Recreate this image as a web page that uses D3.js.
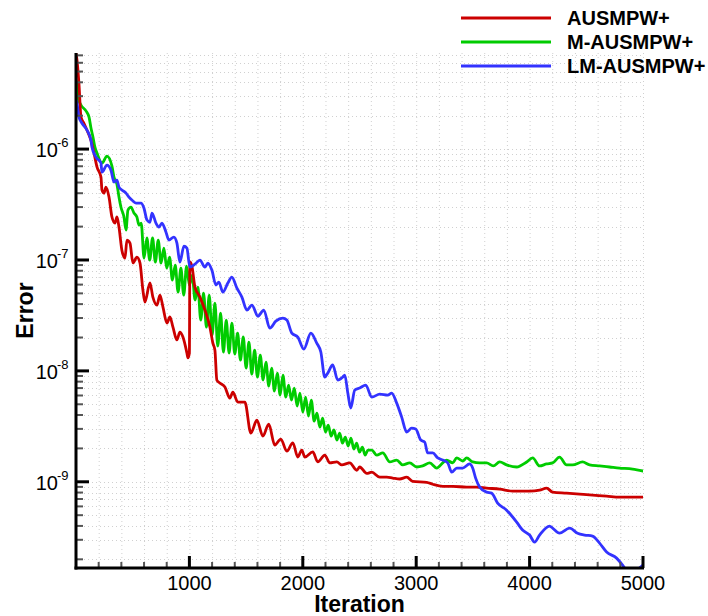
<!DOCTYPE html>
<html><head><meta charset="utf-8">
<script src="https://cdn.jsdelivr.net/npm/d3@7"></script>
<style>body{margin:0;background:#fff}svg{display:block}</style>
</head><body>
<svg id="c" width="708" height="616"></svg>
<script>
const seriesNames = ["AUSMPW+", "M-AUSMPW+", "LM-AUSMPW+"];
const xTickLabels = [1000, 2000, 3000, 4000, 5000];
const yTickExps = [-9, -8, -7, -6];

const redIter = [0,9,26,44,70,97,132,159,185,220,229,247,264,291,317,344,361,379,405,432,449,476,502,537,564,590,608,652,678,714,740,767,802,828,855,890,916,943,978,987,1000,1004,1022,1049,1093,1137,1181,1207,1225,1242,1269,1313,1357,1383,1427,1489,1542,1595,1648,1700,1753,1806,1859,1912,1956,1991,2018,2088,2132,2194,2238,2300,2344,2414,2476,2502,2564,2608,2679,2740,2793,2855,2916,2969,3093,3146,3234,3322,3445,3533,3621,3736,3850,4000,4088,4150,4203,4326,4441,4555,4679,4793,4908,5000];
const redErr = [7.3e-6,6.3e-6,3.9e-6,1.94e-6,1.71e-6,1.48e-6,1.2e-6,9.2e-7,6.9e-7,5.6e-7,4.27e-7,4.0e-7,4.54e-7,3.69e-7,2.44e-7,2.15e-7,2.44e-7,1.98e-7,1.22e-7,1.04e-7,1.51e-7,1.42e-7,9.4e-8,1.06e-7,9.4e-8,5.35e-8,4.17e-8,6.2e-8,4.63e-8,3.92e-8,4.82e-8,3.76e-8,2.7e-8,3.06e-8,2.48e-8,1.9e-8,2.24e-8,2.02e-8,1.45e-8,1.31e-8,1.45e-8,9.6e-8,8.8e-8,5.7e-8,4.63e-8,3.53e-8,2.48e-8,1.78e-8,1.54e-8,8.26e-9,7.77e-9,7.15e-9,5.69e-9,6.43e-9,5.23e-9,5.23e-9,2.75e-9,3.6e-9,2.58e-9,3.31e-9,2.14e-9,2.43e-9,1.89e-9,2.24e-9,1.67e-9,1.93e-9,1.67e-9,1.86e-9,1.51e-9,1.74e-9,1.48e-9,1.51e-9,1.42e-9,1.48e-9,1.27e-9,1.36e-9,1.19e-9,1.22e-9,1.1e-9,1.1e-9,1.08e-9,1.06e-9,1.1e-9,1.01e-9,9.9e-10,9.5e-10,9.1e-10,9.1e-10,8.95e-10,8.95e-10,8.77e-10,8.6e-10,8.24e-10,8.24e-10,8.4e-10,8.77e-10,8.07e-10,7.9e-10,7.74e-10,7.58e-10,7.43e-10,7.27e-10,7.27e-10,7.27e-10];

const greenIter = [0,9,18,44,88,115,132,150,167,185,229,273,317,335,361,379,396,423,441,458,485,511,537,555,
575,600,625,650,675,700,725,750,775,800,825,850,875,900,925,950,975,1000,1025,1050,1075,1100,1125,1150,1175,1200,1225,1250,1275,1300,1325,1350,1375,1400,1425,1450,1475,1500,1525,1550,1575,1600,1625,1650,1675,1700,1725,1750,1775,1800,1825,1850,1875,1900,1925,1950,1975,2000,2025,2050,2075,2100,2125,2150,2175,2200,2225,2250,2275,2300,2325,2350,2375,2400,2425,2450,2475,2500,2525,2550,2575,
2608,2652,2705,2767,2828,2881,2943,3005,3057,3119,3181,3234,3269,3322,3357,3410,3445,3498,3560,3621,3680,3736,3797,3886,3974,4027,4088,4150,4203,4264,4326,4379,4467,4529,4617,4705,4793,4908,5000];
const greenErr = [4.2e-6,3.77e-6,2.88e-6,2.49e-6,2.21e-6,1.94e-6,1.55e-6,1.28e-6,1.04e-6,9.2e-7,7.48e-7,8.65e-7,7.02e-7,5.59e-7,4.83e-7,3.69e-7,3.0e-7,2.44e-7,1.86e-7,2.82e-7,3.0e-7,2.65e-7,2.44e-7,2.06e-7,
2.15e-7,1.04e-7,1.58e-7,9.97e-8,1.58e-7,9.57e-8,1.51e-7,9.37e-8,1.28e-7,8.45e-8,1.06e-7,6.59e-8,8.99e-8,5.13e-8,8.45e-8,4.82e-8,8.81e-8,5.94e-8,7.3e-8,4.35e-8,5.7e-8,2.87e-8,5.03e-8,2.48e-8,4.82e-8,2.1e-8,4.09e-8,1.67e-8,3.32e-8,1.48e-8,2.87e-8,1.45e-8,2.7e-8,1.42e-8,2.19e-8,1.25e-8,2.02e-8,1.06e-8,1.82e-8,9.36e-9,1.54e-8,8.79e-9,1.39e-8,8.26e-9,1.2e-8,7.29e-9,1.06e-8,6.57e-9,9.55e-9,6.05e-9,9.16e-9,5.8e-9,7.45e-9,5.45e-9,7.0e-9,4.82e-9,6.3e-9,4.25e-9,5.8e-9,3.91e-9,5.45e-9,3.53e-9,4.16e-9,3.11e-9,3.75e-9,2.81e-9,3.24e-9,2.58e-9,2.93e-9,2.38e-9,2.75e-9,2.23e-9,2.53e-9,2.1e-9,2.48e-9,1.97e-9,2.23e-9,1.85e-9,2.05e-9,1.74e-9,1.93e-9,
1.93e-9,1.74e-9,1.82e-9,1.51e-9,1.57e-9,1.42e-9,1.48e-9,1.36e-9,1.39e-9,1.48e-9,1.33e-9,1.48e-9,1.57e-9,1.48e-9,1.64e-9,1.54e-9,1.64e-9,1.51e-9,1.48e-9,1.48e-9,1.39e-9,1.51e-9,1.42e-9,1.36e-9,1.51e-9,1.64e-9,1.39e-9,1.45e-9,1.48e-9,1.67e-9,1.42e-9,1.42e-9,1.51e-9,1.42e-9,1.39e-9,1.36e-9,1.33e-9,1.3e-9,1.25e-9];

const blueIter = [0,9,26,53,97,132,141,176,220,229,273,308,335,361,379,405,441,467,493,529,573,599,626,652,670,705,731,758,793,819,863,890,916,952,978,1004,1049,1093,1137,1163,1198,1234,1260,1295,1339,1374,1419,1463,1507,1551,1604,1656,1709,1762,1824,1859,1903,1956,2009,2071,2123,2159,2194,2220,2264,2308,2352,2370,2397,2423,2458,2502,2555,2608,2679,2749,2784,2828,2872,2916,2960,2996,3040,3075,3101,3146,3190,3234,3278,3313,3357,3410,3471,3498,3524,3560,3621,3665,3718,3797,3886,3938,4000,4044,4088,4176,4203,4264,4353,4423,4485,4555,4617,4679,4767,4820,4864,4908,4943,5000];
const blueErr = [2.77e-6,2.59e-6,1.94e-6,1.71e-6,1.48e-6,1.2e-6,1.04e-6,8.47e-7,7.48e-7,6.2e-7,7.17e-7,6.46e-7,5.04e-7,5.25e-7,4.54e-7,4.27e-7,4.01e-7,3.69e-7,3.47e-7,3.26e-7,3.26e-7,2.94e-7,2.29e-7,2.19e-7,2.65e-7,2.15e-7,1.98e-7,2.15e-7,1.79e-7,1.51e-7,1.61e-7,1.42e-7,9.57e-8,1.33e-7,1.28e-7,8.63e-8,9.18e-8,9.98e-8,8.63e-8,9.38e-8,8.11e-8,5.94e-8,6.32e-8,5.13e-8,6.19e-8,7.01e-8,5.58e-8,4.63e-8,3.53e-8,3.92e-8,3.12e-8,3.53e-8,2.43e-8,2.81e-8,2.99e-8,2.87e-8,2.19e-8,2.02e-8,1.57e-8,2.19e-8,1.78e-8,1.48e-8,8.79e-9,9.55e-9,1.13e-8,8.26e-9,8.79e-9,9.17e-9,6.31e-9,4.62e-9,6.71e-9,7.0e-9,7.45e-9,5.8e-9,6.18e-9,6.05e-9,6.31e-9,5.12e-9,3.83e-9,2.81e-9,3.05e-9,2.99e-9,2.38e-9,2.28e-9,1.82e-9,1.82e-9,1.64e-9,1.57e-9,1.48e-9,1.22e-9,1.33e-9,1.33e-9,1.45e-9,1.33e-9,1.08e-9,8.96e-10,8.07e-10,7.9e-10,6.43e-10,5.55e-10,4.33e-10,3.67e-10,3.31e-10,2.86e-10,3.31e-10,3.99e-10,3.82e-10,3.44e-10,3.82e-10,3.44e-10,3.31e-10,3.24e-10,2.8e-10,2.33e-10,2.05e-10,1.77e-10,1.53e-10,1.41e-10,1.57e-10,1.77e-10];

const colors = ["#cc0000", "#00cc00", "#3333ff"];
const series = [
  {name: seriesNames[0], iter: redIter, err: redErr, color: colors[0]},
  {name: seriesNames[1], iter: greenIter, err: greenErr, color: colors[1]},
  {name: seriesNames[2], iter: blueIter, err: blueErr, color: colors[2]}
];

const L = 76, R = 643, T = 53, B = 568;
const FONT = "'Liberation Sans', Arial, Helvetica, sans-serif";
const svg = d3.select("#c");
const x = d3.scaleLinear().domain([0, 5000]).range([L, R]);
const y = d3.scaleLog().domain([1.67e-10, 7.35e-6]).range([B, T]);

svg.append("defs").append("clipPath").attr("id", "plot")
  .append("rect").attr("x", L).attr("y", T).attr("width", R - L).attr("height", B - T);

// grid
const grid = svg.append("g").attr("stroke", "#d0d0d0").attr("stroke-width", 1).attr("stroke-dasharray", "1,3");
d3.range(200, 5001, 200).forEach(v => {
  grid.append("line").attr("x1", x(v) + 0.5).attr("x2", x(v) + 0.5).attr("y1", T).attr("y2", B);
});
const yt = y.ticks();
yt.forEach(t => {
  grid.append("line").attr("x1", L).attr("x2", R).attr("y1", Math.round(y(t)) + 0.5).attr("y2", Math.round(y(t)) + 0.5);
});

// curves
const line = d3.line().x(d => x(d[0])).y(d => y(d[1])).curve(d3.curveMonotoneX);
const plotG = svg.append("g").attr("clip-path", "url(#plot)");
[series[1], series[0], series[2]].forEach(s => {
  const pts = s.iter.map((v, i) => [v, s.err[i]]);
  plotG.append("path").datum(pts).attr("d", line)
    .attr("fill", "none").attr("stroke", s.color).attr("stroke-width", 2.8)
    .attr("stroke-linejoin", "round").attr("stroke-linecap", "round");
});

// axes
const ax = svg.append("g");
yt.forEach(t => {
  const lg = Math.log10(t);
  const major = Math.abs(lg - Math.round(lg)) < 1e-6;
  const yy = y(t);
  ax.append("line").attr("x1", L).attr("x2", L + (major ? 13 : 7)).attr("y1", yy).attr("y2", yy)
    .attr("stroke", major ? "#000" : "#555").attr("stroke-width", major ? 3 : 2);
});
d3.range(200, 5001, 200).forEach(v => {
  const major = v % 1000 === 0;
  ax.append("line").attr("x1", x(v)).attr("x2", x(v)).attr("y1", B).attr("y2", B - (major ? 12 : 6))
    .attr("stroke", major ? "#000" : "#555").attr("stroke-width", major ? 3 : 2);
});
ax.append("line").attr("x1", L).attr("x2", L).attr("y1", T).attr("y2", B + 1.5).attr("stroke", "#000").attr("stroke-width", 3);
ax.append("line").attr("x1", L - 1.5).attr("x2", R + 1).attr("y1", B).attr("y2", B).attr("stroke", "#000").attr("stroke-width", 3);

// tick labels
xTickLabels.forEach(v => {
  svg.append("text").attr("x", x(v)).attr("y", 590).attr("text-anchor", "middle")
    .attr("font-family", FONT).attr("font-size", 20).attr("fill", "#000").text(v);
});
yTickExps.forEach(e => {
  const yy = y(Math.pow(10, e));
  svg.append("text").attr("x", 58).attr("y", yy + 8).attr("text-anchor", "end")
    .attr("font-family", FONT).attr("font-size", 20).attr("fill", "#000").text("10");
  svg.append("text").attr("x", 57).attr("y", yy - 2).attr("text-anchor", "start")
    .attr("font-family", FONT).attr("font-size", 13).attr("fill", "#000").text(String(e));
});

// axis titles
svg.append("text").attr("x", (L + R) / 2).attr("y", 612).attr("text-anchor", "middle")
  .attr("font-family", FONT).attr("font-size", 23).attr("font-weight", "bold").text("Iteration");
svg.append("text").attr("transform", `translate(33,${(T + B) / 2}) rotate(-90)`).attr("text-anchor", "middle")
  .attr("font-family", FONT).attr("font-size", 23).attr("font-weight", "bold").text("Error");

// legend
const legY = [18, 42, 66];
series.forEach((s, i) => {
  svg.append("line").attr("x1", 461).attr("x2", 551).attr("y1", legY[i]).attr("y2", legY[i])
    .attr("stroke", s.color).attr("stroke-width", 3);
  svg.append("text").attr("x", 567).attr("y", legY[i] + 7).attr("font-family", FONT)
    .attr("font-size", 20).attr("font-weight", "bold").attr("fill", "#000").text(s.name);
});
</script>
</body></html>
